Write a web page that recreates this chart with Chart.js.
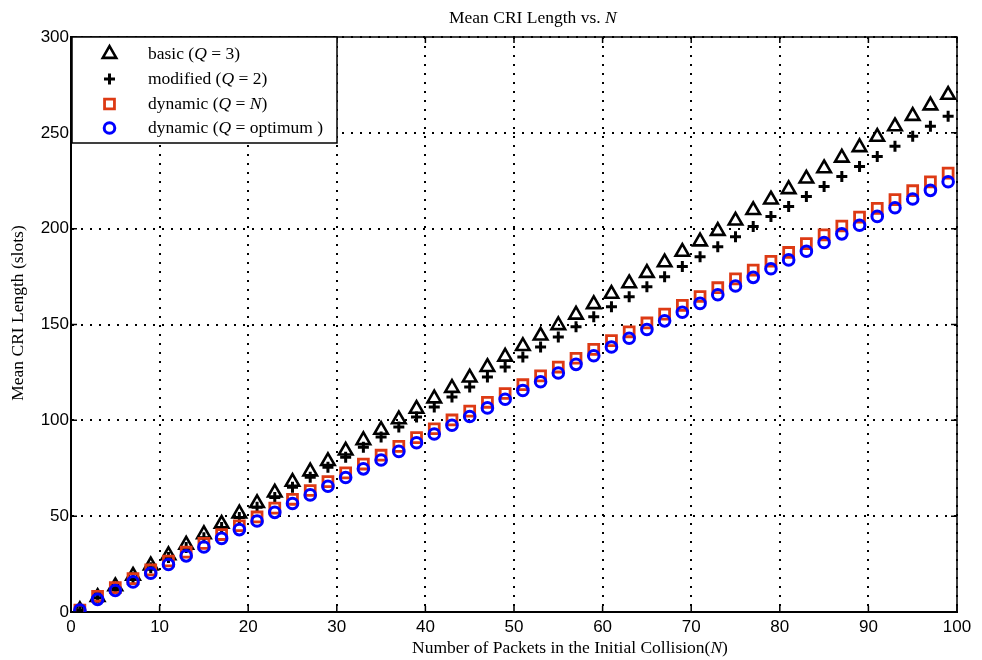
<!DOCTYPE html>
<html>
<head>
<meta charset="utf-8">
<title>Mean CRI Length vs. N</title>
<script src="https://cdn.jsdelivr.net/npm/chart.js@4.4.0/dist/chart.umd.min.js"></script>
<style>
    html, body { margin: 0; padding: 0; background: #fff; }
</style>
</head>
<body>
<canvas id="criChart" width="982" height="660"></canvas>
<script>
// number of packets in the initial collision
const packets = [1, 3, 5, 7, 9, 11, 13, 15, 17, 19, 21, 23, 25, 27, 29, 31, 33, 35, 37, 39,
    41, 43, 45, 47, 49, 51, 53, 55, 57, 59, 61, 63, 65, 67, 69, 71, 73, 75, 77, 79,
    81, 83, 85, 87, 89, 91, 93, 95, 97, 99];

// mean CRI length (slots)
const basicQ3 = [1, 7.8, 13.4, 18.9, 24.3, 29.6, 35.1, 40.6, 46.0, 51.4, 56.8, 62.3, 67.9, 73.3, 78.7, 84.2, 89.6, 95.0, 100.5, 106.0,
    111.4, 116.9, 122.3, 127.8, 133.2, 138.7, 144.2, 149.6, 155.1, 160.6, 166.0, 171.5, 176.9, 182.4, 187.9, 193.3, 198.8, 204.2, 209.7, 215.2,
    220.6, 226.1, 231.5, 237.0, 242.5, 247.9, 253.4, 258.8, 264.3, 269.8];
const modifiedQ2 = [1, 7.4, 12.6, 17.9, 23.1, 28.4, 33.6, 38.8, 44.1, 49.3, 54.6, 59.8, 65.1, 70.3, 75.5, 80.8, 86.0, 91.3, 96.5, 101.7,
    107.0, 112.2, 117.4, 122.6, 127.8, 133.1, 138.3, 143.5, 148.8, 154.0, 159.2, 164.5, 169.7, 174.9, 180.2, 185.4, 190.6, 195.8, 201.1, 206.3,
    211.6, 216.8, 222.0, 227.2, 232.5, 237.7, 243.0, 248.2, 253.4, 258.7];
const dynamicQN = [1, 8.2, 12.7, 17.4, 22.0, 26.6, 31.2, 35.8, 40.4, 45.0, 49.6, 54.2, 58.8, 63.4, 68.0, 72.6, 77.2, 81.8, 86.4, 91.0,
    95.6, 100.2, 104.8, 109.4, 114.0, 118.6, 123.2, 127.8, 132.4, 137.0, 141.6, 146.2, 150.8, 155.4, 160.0, 164.6, 169.2, 173.8, 178.4, 183.0,
    187.6, 192.2, 196.8, 201.4, 206.0, 210.6, 215.2, 219.8, 224.4, 229.0];
const dynamicOpt = [1, 6.6, 11.2, 15.7, 20.2, 24.8, 29.3, 33.9, 38.4, 43.0, 47.5, 52.0, 56.6, 61.1, 65.6, 70.2, 74.7, 79.3, 83.8, 88.3,
    92.9, 97.4, 102.0, 106.5, 111.0, 115.6, 120.1, 124.7, 129.2, 133.7, 138.3, 142.8, 147.4, 151.9, 156.4, 161.0, 165.5, 170.1, 174.6, 179.1,
    183.7, 188.2, 192.8, 197.3, 201.8, 206.4, 210.9, 215.5, 220.0, 224.5];

// legend labels: [text, italic] pieces
const legendLabels = [
    [['basic (', false], ['Q', true], [' = 3)', false]],
    [['modified (', false], ['Q', true], [' = 2)', false]],
    [['dynamic (', false], ['Q', true], [' = ', false], ['N', true], [')', false]],
    [['dynamic (', false], ['Q', true], [' = optimum )', false]]
];

const SERIF = "'Liberation Serif', 'Times New Roman', serif";
const SANS = "'Liberation Sans', Arial, sans-serif";
const RED = '#dd3a14';
const BLUE = '#0000ff';
const TXT = 17.5;

const styles = [
    { pointStyle: 'triangle', radius: 7.8, color: '#000', width: 2.6 },
    { pointStyle: 'cross', radius: 5.5, color: '#000', width: 3 },
    { pointStyle: 'rect', radius: 7, color: RED, width: 2.8 },
    { pointStyle: 'circle', radius: 5.3, color: BLUE, width: 3 }
];

function toPoints(values) {
    return packets.map((n, i) => ({ x: n, y: values[i] }));
}

function makeDataset(values, st, order) {
    return {
        data: toPoints(values),
        showLine: false,
        pointStyle: st.pointStyle,
        pointRadius: st.radius,
        pointBorderWidth: st.width,
        pointBorderColor: st.color,
        pointBackgroundColor: 'rgba(0,0,0,0)',
        order: order
    };
}

function drawRich(ctx, parts, x, y, size) {
    let cx = x;
    parts.forEach(([text, italic]) => {
        ctx.font = (italic ? 'italic ' : '') + size + 'px ' + SERIF;
        ctx.fillText(text, cx, y);
        cx += ctx.measureText(text).width;
    });
}

function richWidth(ctx, parts, size) {
    let w = 0;
    parts.forEach(([text, italic]) => {
        ctx.font = (italic ? 'italic ' : '') + size + 'px ' + SERIF;
        w += ctx.measureText(text).width;
    });
    return w;
}

const matlabFrame = {
    id: 'matlabFrame',
    afterDraw(chart) {
        const ctx = chart.ctx;
        const { left, right, top, bottom } = chart.chartArea;
        const xs = chart.scales.x, ys = chart.scales.y;
        ctx.save();
        ctx.strokeStyle = '#000';

        // top and right edges of the box
        ctx.lineWidth = 1.5;
        ctx.beginPath();
        ctx.moveTo(left, top);
        ctx.lineTo(right, top);
        ctx.lineTo(right, bottom);
        ctx.stroke();

        // inward tick marks on all four sides
        const tick = 6;
        ctx.beginPath();
        xs.ticks.forEach(t => {
            const px = xs.getPixelForValue(t.value);
            ctx.moveTo(px, bottom); ctx.lineTo(px, bottom - tick);
            ctx.moveTo(px, top); ctx.lineTo(px, top + tick);
        });
        ys.ticks.forEach(t => {
            const py = ys.getPixelForValue(t.value);
            ctx.moveTo(left, py); ctx.lineTo(left + tick, py);
            ctx.moveTo(right, py); ctx.lineTo(right - tick, py);
        });
        ctx.stroke();

        // legend box
        const bx = 72, by = 37, bw = 265, bh = 106;
        ctx.fillStyle = '#fff';
        ctx.fillRect(bx, by, bw, bh);
        ctx.lineWidth = 1.5;
        ctx.strokeRect(bx, by, bw, bh);

        const rowY = [54, 79, 104, 128];
        legendLabels.forEach((parts, i) => {
            const st = styles[i];
            ctx.save();
            ctx.strokeStyle = st.color;
            ctx.lineWidth = st.width;
            ctx.fillStyle = 'rgba(0,0,0,0)';
            Chart.helpers.drawPoint(ctx, {
                pointStyle: st.pointStyle,
                radius: st.radius,
                borderWidth: st.width,
                rotation: 0
            }, 109.5, rowY[i]);
            ctx.restore();
            ctx.fillStyle = '#000';
            ctx.textBaseline = 'middle';
            ctx.textAlign = 'left';
            drawRich(ctx, parts, 148, rowY[i], TXT);
        });

        // titles
        ctx.fillStyle = '#000';
        ctx.textBaseline = 'middle';
        ctx.textAlign = 'left';
        drawRich(ctx, [['Mean CRI Length vs. ', false], ['N', true]], 449, 18, TXT);
        drawRich(ctx, [['Number of Packets in the Initial Collision(', false], ['N', true], [')', false]], 412, 648, TXT);

        const yTitle = [['Mean CRI Length (slots)', false]];
        const w = richWidth(ctx, yTitle, TXT);
        ctx.translate(18, 313);
        ctx.rotate(-Math.PI / 2);
        drawRich(ctx, yTitle, -w / 2, 0, TXT);
        ctx.restore();
    }
};

const axisCommon = {
    type: 'linear',
    grid: { color: '#000', lineWidth: 2, drawTicks: false },
    border: { display: true, color: '#000', width: 2, dash: [2, 7] }
};

new Chart(document.getElementById('criChart'), {
    type: 'scatter',
    data: {
        datasets: [
            makeDataset(basicQ3, styles[0], 4),
            makeDataset(modifiedQ2, styles[1], 3),
            makeDataset(dynamicQN, styles[2], 2),
            makeDataset(dynamicOpt, styles[3], 1)
        ]
    },
    options: {
        responsive: false,
        animation: false,
        devicePixelRatio: 1,
        layout: { padding: { top: 37, right: 25, left: 0, bottom: 0 } },
        plugins: {
            legend: { display: false },
            tooltip: { enabled: false },
            title: { display: false }
        },
        scales: {
            x: {
                ...axisCommon,
                min: 0,
                max: 100,
                ticks: { stepSize: 10, color: '#000', padding: 5, maxRotation: 0, font: { family: SANS, size: 17 } },
                afterFit: s => { s.height = 48; }
            },
            y: {
                ...axisCommon,
                min: 0,
                max: 300,
                ticks: { stepSize: 50, color: '#000', padding: 2, font: { family: SANS, size: 17 } },
                afterFit: s => { s.width = 71; }
            }
        }
    },
    plugins: [matlabFrame]
});
</script>
</body>
</html>
